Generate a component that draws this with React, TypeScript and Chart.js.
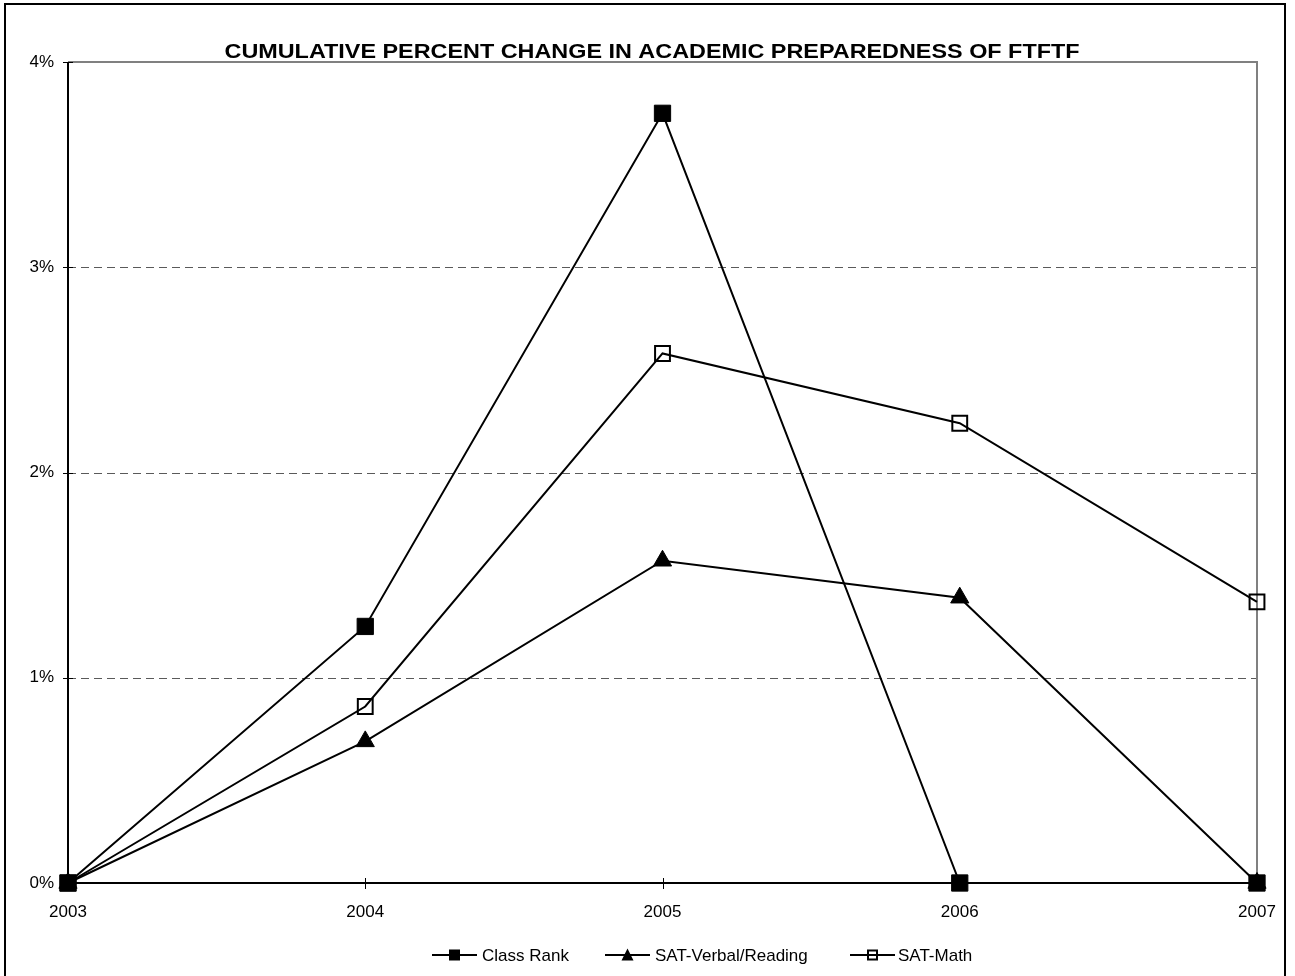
import { useEffect, useRef } from 'react';
import { Chart, registerables } from 'chart.js';

Chart.register(...registerables);

const titleText = 'CUMULATIVE PERCENT CHANGE IN ACADEMIC PREPAREDNESS OF FTFTF';
const years = ['2003', '2004', '2005', '2006', '2007'];
const classRank = [0, 1.25, 3.75, 0, 0];
const satVerbal = [0, 0.69, 1.57, 1.39, 0];
const satMath = [0, 0.86, 2.58, 2.24, 1.37];
const yTicks = [0, 1, 2, 3, 4];
const seriesNames = ['Class Rank', 'SAT-Verbal/Reading', 'SAT-Math'];

const FONT = '"Liberation Sans", Arial, Helvetica, sans-serif';

function drawMarker(ctx: CanvasRenderingContext2D, kind: number, cx: number, cy: number, s: number) {
  ctx.save();
  ctx.strokeStyle = '#000';
  ctx.fillStyle = '#000';
  if (kind === 0) {
    ctx.fillRect(cx - s / 2, cy - s / 2, s, s);
  } else if (kind === 1) {
    ctx.beginPath();
    ctx.moveTo(cx, cy - s / 2 - 1);
    ctx.lineTo(cx + s / 2 + 0.5, cy + s / 2);
    ctx.lineTo(cx - s / 2 - 0.5, cy + s / 2);
    ctx.closePath();
    ctx.fill();
  } else {
    ctx.lineWidth = 2;
    ctx.strokeRect(cx - s / 2 + 1, cy - s / 2 + 1, s - 2, s - 2);
  }
  ctx.restore();
}

export default function App() {
  const ref = useRef<HTMLCanvasElement>(null);

  useEffect(() => {
    document.body.style.margin = '0';
    const canvas = ref.current;
    if (!canvas) return;

    const framePlugin = {
      id: 'framePlugin',
      beforeDatasetsDraw(chart: any) {
        const { ctx, chartArea: a, scales } = chart;
        const ys = scales.y;
        const xs = scales.x;
        ctx.save();
        ctx.strokeStyle = '#5a5a5a';
        ctx.lineWidth = 1;
        ctx.setLineDash([8, 5]);
        for (const v of yTicks) {
          if (v === yTicks[0] || v === yTicks[yTicks.length - 1]) continue;
          const py = Math.round(ys.getPixelForValue(v)) + 0.5;
          ctx.beginPath();
          ctx.moveTo(a.left, py);
          ctx.lineTo(a.right, py);
          ctx.stroke();
        }
        ctx.setLineDash([]);
        ctx.strokeStyle = '#808080';
        ctx.lineWidth = 2;
        ctx.beginPath();
        ctx.moveTo(a.left, a.top);
        ctx.lineTo(a.right, a.top);
        ctx.lineTo(a.right, a.bottom);
        ctx.stroke();
        ctx.strokeStyle = '#000';
        ctx.lineWidth = 2;
        ctx.beginPath();
        ctx.moveTo(a.left, a.top);
        ctx.lineTo(a.left, a.bottom);
        ctx.lineTo(a.right, a.bottom);
        ctx.stroke();
        ctx.lineWidth = 1;
        for (const v of yTicks) {
          const py = Math.round(ys.getPixelForValue(v)) + 0.5;
          ctx.beginPath();
          ctx.moveTo(a.left - 5, py);
          ctx.lineTo(a.left + 5, py);
          ctx.stroke();
        }
        for (let i = 0; i < years.length; i++) {
          const px = Math.round(xs.getPixelForValue(i)) + 0.5;
          ctx.beginPath();
          ctx.moveTo(px, a.bottom - 5);
          ctx.lineTo(px, a.bottom + 6);
          ctx.stroke();
        }
        ctx.restore();
      },
      afterDraw(chart: any) {
        const { ctx } = chart;
        ctx.save();
        ctx.strokeStyle = '#000';
        ctx.lineWidth = 2;
        ctx.strokeRect(5, 4, 1280, 990);
        // title
        ctx.fillStyle = '#000';
        ctx.font = `bold 21px ${FONT}`;
        ctx.textAlign = 'center';
        ctx.textBaseline = 'alphabetic';
        const tw = ctx.measureText(titleText).width;
        const sx = 855 / tw;
        ctx.save();
        ctx.translate(652, 58);
        ctx.scale(sx, 1);
        ctx.fillText(titleText, 0, 0);
        ctx.restore();
        // legend
        ctx.font = `17px ${FONT}`;
        ctx.textAlign = 'left';
        ctx.textBaseline = 'middle';
        const starts = [432, 605, 850];
        const textOff = [50, 50, 48];
        const cy = 955;
        for (let i = 0; i < seriesNames.length; i++) {
          const x = starts[i];
          ctx.strokeStyle = '#000';
          ctx.lineWidth = 2;
          ctx.beginPath();
          ctx.moveTo(x, cy);
          ctx.lineTo(x + 45, cy);
          ctx.stroke();
          drawMarker(ctx, i, x + 22.5, cy, 11);
          ctx.fillStyle = '#000';
          ctx.fillText(seriesNames[i], x + textOff[i], cy + 1);
        }
        ctx.restore();
      },
    };

    const chart = new Chart(canvas, {
      type: 'line',
      data: {
        labels: years,
        datasets: [
          {
            label: seriesNames[0],
            data: classRank,
            borderColor: '#000',
            borderWidth: 2,
            pointStyle: 'rect',
            pointRadius: 11.5,
            pointHoverRadius: 11.5,
            pointBackgroundColor: '#000',
            pointBorderColor: '#000',
            pointBorderWidth: 1,
            tension: 0,
            clip: false,
          },
          {
            label: seriesNames[1],
            data: satVerbal,
            borderColor: '#000',
            borderWidth: 2,
            pointStyle: 'triangle',
            pointRadius: 10.5,
            pointHoverRadius: 10.5,
            pointBackgroundColor: '#000',
            pointBorderColor: '#000',
            pointBorderWidth: 1,
            tension: 0,
            clip: false,
          },
          {
            label: seriesNames[2],
            data: satMath,
            borderColor: '#000',
            borderWidth: 2,
            pointStyle: 'rect',
            pointRadius: 10.5,
            pointHoverRadius: 10.5,
            pointBackgroundColor: 'rgba(0,0,0,0)',
            pointBorderColor: '#000',
            pointBorderWidth: 2,
            tension: 0,
            clip: false,
          },
        ],
      },
      options: {
        animation: false,
        responsive: true,
        maintainAspectRatio: false,
        events: [],
        layout: {
          autoPadding: false,
          padding: { left: 0, top: 62, right: 38, bottom: 53 },
        },
        plugins: {
          legend: { display: false },
          title: { display: false },
          tooltip: { enabled: false },
        },
        scales: {
          x: {
            type: 'category',
            offset: false,
            grid: { display: false, drawTicks: false },
            border: { display: false },
            ticks: {
              color: '#000',
              font: { family: FONT, size: 17 },
              padding: 19,
              autoSkip: false,
              maxRotation: 0,
            },
            afterFit: (s: any) => {
              s.height = 40;
            },
          },
          y: {
            min: 0,
            max: 4,
            grid: { display: false, drawTicks: false },
            border: { display: false },
            ticks: {
              stepSize: 1,
              color: '#000',
              font: { family: FONT, size: 17 },
              padding: 14,
              callback: (v: any) => `${v}%`,
            },
            afterFit: (s: any) => {
              s.width = 68;
            },
          },
        },
      },
      plugins: [framePlugin],
    });

    return () => chart.destroy();
  }, []);

  return (
    <div style={{ position: 'fixed', left: 0, top: 0, width: 1295, height: 976, background: '#fff' }}>
      <canvas ref={ref} />
    </div>
  );
}
